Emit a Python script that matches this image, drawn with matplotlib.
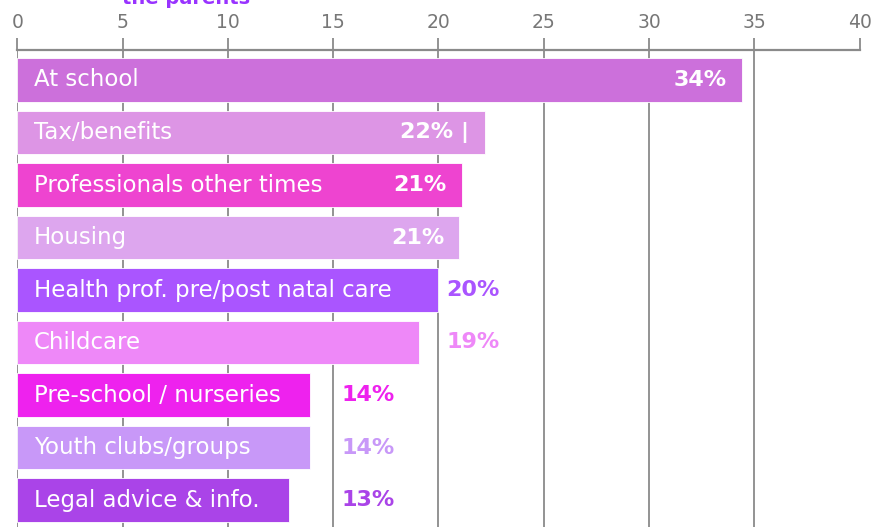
import matplotlib
matplotlib.use("Agg")
import matplotlib.pyplot as plt
import math

categories = ["At school", "Tax/benefits", "Professionals other times", "Housing",
              "Health prof. pre/post natal care", "Childcare", "Pre-school / nurseries",
              "Youth clubs/groups", "Legal advice & info."]
values = [34.4, 22.2, 21.1, 21.0, 20.0, 19.1, 13.9, 13.9, 12.9]
value_labels = ["34%", "22% |", "21%", "21%", "20%", "19%", "14%", "14%", "13%"]
colors = ["#CC70DB", "#DD95E5", "#EE44D0", "#DDA6EE", "#AA55FF", "#EE88F8",
          "#EE22EE", "#C898F8", "#AA44E8"]
inside = [True, True, True, True, False, False, False, False, False]
xticks = [0, 5, 10, 15, 20, 25, 30, 35, 40]
gridlines = [0, 5, 10, 15, 20, 25, 30, 35]
title_text = "the parents"

W, H = 877, 527
fig = plt.figure(figsize=(W / 100, H / 100), dpi=100)
left_px, right_px, top_px = 17.3, 859.5, 50
ax = fig.add_axes([left_px / W, 0, (right_px - left_px) / W, (H - top_px) / H])

pitch = 52.5
first_c = 80 - top_px
ax.set_ylim((H - top_px - first_c) / pitch, -first_c / pitch)
ax.set_xlim(0, 40)

grid_col = "#8a8a8a"
for x in gridlines:
    ax.axvline(x, color=grid_col, lw=1.3, zorder=0)
ax.axhline(ax.get_ylim()[1], color=grid_col, lw=1.6, zorder=0, clip_on=False)

ypos = list(range(len(categories)))
ax.barh(ypos, values, height=0.82, color=colors, edgecolor="white", linewidth=0.6, zorder=2)

for i, (cat, v, lab, c, ins) in enumerate(zip(categories, values, value_labels, colors, inside)):
    ax.annotate(cat, (0, i), xytext=(12, 0), textcoords="offset points",
                ha="left", va="center", color="white", fontsize=16.5,
                family="DejaVu Sans", zorder=3)
    if ins:
        ax.annotate(lab, (v, i), xytext=(-11, 0), textcoords="offset points",
                    ha="right", va="center", color="white", fontsize=16,
                    fontweight="bold", zorder=3)
    else:
        gx = math.ceil(v / 5 - 1e-9) * 5
        ax.annotate(lab, (gx, i), xytext=(6, 0), textcoords="offset points",
                    ha="left", va="center", color=c, fontsize=16,
                    fontweight="bold", zorder=3)

ax.set_xticks(xticks)
ax.xaxis.tick_top()
ax.tick_params(axis="x", direction="out", length=9, width=1.3, color=grid_col,
               labelcolor="#777777", labelsize=13.5, pad=4)
ax.set_yticks([])
for s in ax.spines.values():
    s.set_visible(False)

fig.text(122 / W, 1 - 4 / H, title_text, color="#9933FF", fontsize=14,
         fontweight="bold", ha="left", va="baseline")

fig.savefig("out.png", dpi=100)
